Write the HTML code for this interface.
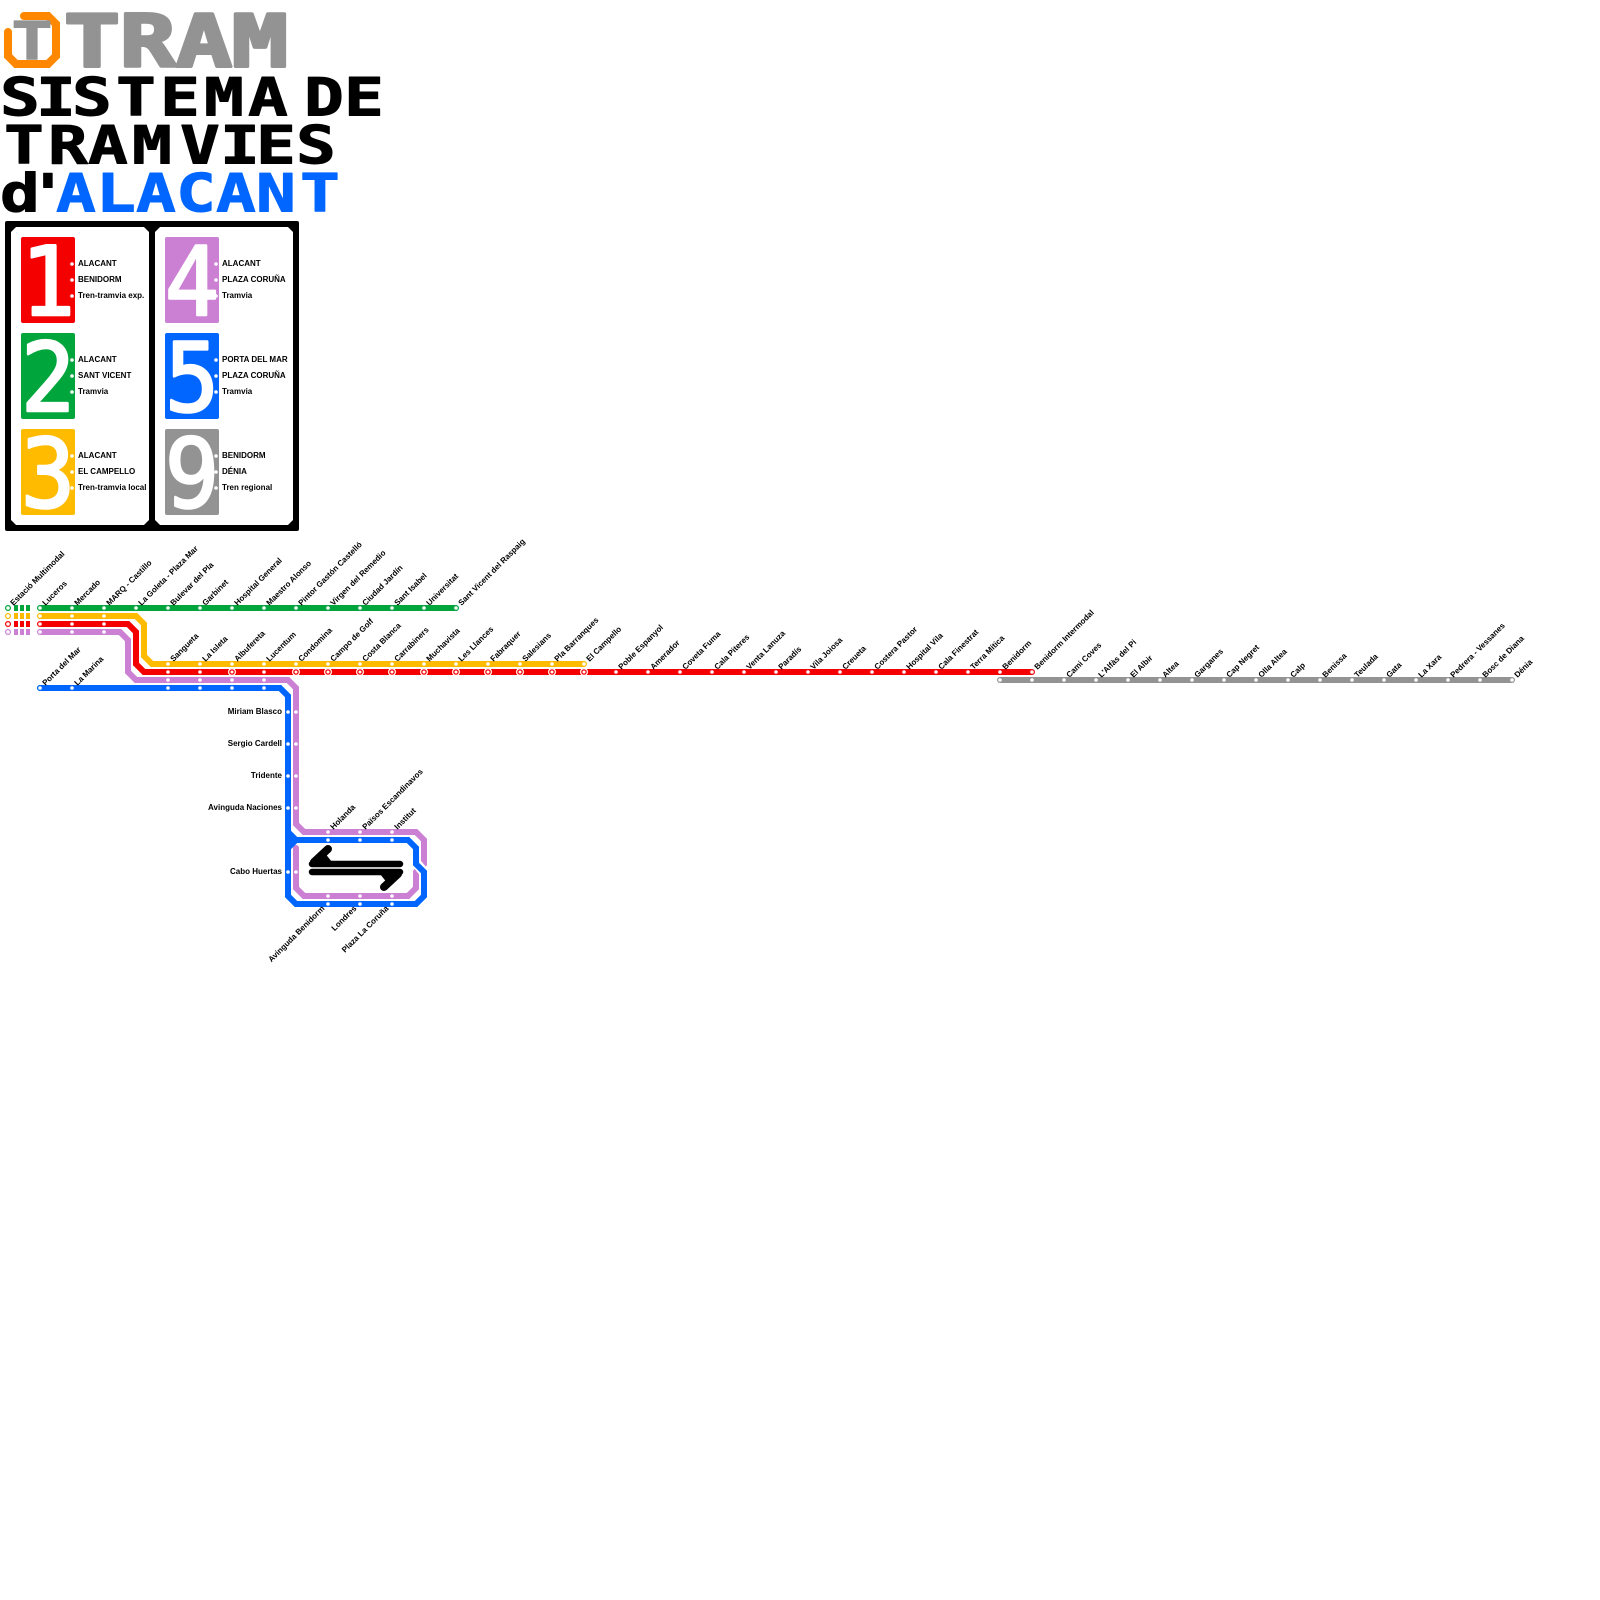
<!DOCTYPE html>
<html><head><meta charset="utf-8"><title>Sistema de Tramvies d'Alacant</title>
<style>
html,body{margin:0;padding:0;background:#fff}
svg{display:block}
.t{font-family:"DejaVu Sans Mono",monospace;font-weight:700;text-anchor:middle;stroke-linejoin:round}
.n{font-family:"DejaVu Sans Mono",monospace;font-weight:400;text-anchor:middle;stroke-linejoin:round}
.s{font-family:"Liberation Sans",sans-serif;font-weight:700;font-size:8px;fill:#000}
.e{text-anchor:end}
.l{fill:none;stroke-width:6;stroke-linecap:round;stroke-linejoin:miter}
.d circle{r:1.8px}
</style></head><body>
<svg xmlns="http://www.w3.org/2000/svg" width="1600" height="1600" viewBox="0 0 1600 1600">
<rect width="1600" height="1600" fill="#fff"/>

<path d="M24 16H48L56 24V56L48 64H16L8 56V32" fill="none" stroke="#ff8800" stroke-width="8" stroke-linecap="round"/>
<text class="t" transform="translate(32,59.5) scale(1.3,1)" font-size="53" fill="#939393" stroke="#939393" stroke-width="1">T</text>
<text class="t" transform="scale(1.3,1)" x="70.8 113.8 156.9 200" y="66.5" font-size="72" fill="#939393" stroke="#939393" stroke-width="3">TRAM</text>
<text class="t" transform="scale(1.25,1)" x="16 44.8 73.6 108.8 144 179.2 214.4 240 259.2 291.2" y="115.5" font-size="53" fill="#000" stroke="#000" stroke-width="1">SISTEMA DE</text>
<text class="t" transform="scale(1.25,1)" x="19.2 54.4 86.4 121.6 160 192 220.8 252.8" y="163.5" font-size="53" fill="#000" stroke="#000" stroke-width="1">TRAMVIES</text>
<text class="t" transform="scale(1.25,1)" y="211.5" font-size="53" stroke-width="1"><tspan x="16 38.4" fill="#000" stroke="#000">d'</tspan><tspan x="60.8 92.8 124.8 156.8 188.8 220.8 256" fill="#0066ff" stroke="#0066ff">ALACANT</tspan></text>

<rect x="5" y="221" width="294" height="310" rx="2" fill="#000"/>
<polygon points="16,227 144,227 149,232 149,520 144,525 16,525 11,520 11,232" fill="#fff"/>
<polygon points="160,227 288,227 293,232 293,520 288,525 160,525 155,520 155,232" fill="#fff"/>

<rect x="21" y="237" width="54" height="86" rx="2" fill="#f50000"/>
<rect x="21" y="333" width="54" height="86" rx="2" fill="#00a63c"/>
<rect x="21" y="429" width="54" height="86" rx="2" fill="#ffbb00"/>
<rect x="165" y="237" width="54" height="86" rx="2" fill="#cc80d4"/>
<rect x="165" y="333" width="54" height="86" rx="2" fill="#0066ff"/>
<rect x="165" y="429" width="54" height="86" rx="2" fill="#939393"/>

<g class="n" font-size="95" fill="#fff" stroke="#fff" stroke-width="2.5">
<text transform="translate(48,315) scale(.95,1)">1</text>
<text transform="translate(48,411) scale(.95,1)">2</text>
<text transform="translate(48,507) scale(.95,1)">3</text>
<text transform="translate(192,315) scale(.95,1)">4</text>
<text transform="translate(192,411) scale(.95,1)">5</text>
<text transform="translate(192,507) scale(.95,1)">9</text>
</g>

<g fill="#fff" class="d">
<circle cx="72" cy="264" r="2"/><circle cx="72" cy="280" r="2"/><circle cx="72" cy="296" r="2"/>
<circle cx="72" cy="360" r="2"/><circle cx="72" cy="376" r="2"/><circle cx="72" cy="392" r="2"/>
<circle cx="72" cy="456" r="2"/><circle cx="72" cy="472" r="2"/><circle cx="72" cy="488" r="2"/>
<circle cx="216" cy="264" r="2"/><circle cx="216" cy="280" r="2"/><circle cx="216" cy="296" r="2"/>
<circle cx="216" cy="360" r="2"/><circle cx="216" cy="376" r="2"/><circle cx="216" cy="392" r="2"/>
<circle cx="216" cy="456" r="2"/><circle cx="216" cy="472" r="2"/><circle cx="216" cy="488" r="2"/>
</g>
<g class="s">
<text x="78" y="266">ALACANT</text><text x="78" y="282">BENIDORM</text><text x="78" y="298">Tren-tramvia exp.</text>
<text x="78" y="362">ALACANT</text><text x="78" y="378">SANT VICENT</text><text x="78" y="394">Tramvia</text>
<text x="78" y="458">ALACANT</text><text x="78" y="474">EL CAMPELLO</text><text x="78" y="490">Tren-tramvia local</text>
<text x="222" y="266">ALACANT</text><text x="222" y="282">PLAZA CORUÑA</text><text x="222" y="298">Tramvia</text>
<text x="222" y="362">PORTA DEL MAR</text><text x="222" y="378">PLAZA CORUÑA</text><text x="222" y="394">Tramvia</text>
<text x="222" y="458">BENIDORM</text><text x="222" y="474">DÉNIA</text><text x="222" y="490">Tren regional</text>
</g>

<!-- legend stubs -->
<path class="l" d="M8 608H8.01" stroke="#00a63c"/><path class="l" d="M8 616H8.01" stroke="#ffbb00"/><path class="l" d="M8 624H8.01" stroke="#f50000"/><path class="l" d="M8 632H8.01" stroke="#cc80d4"/>
<g fill="#00a63c"><rect x="14" y="605" width="4" height="6"/><rect x="20" y="605" width="4" height="6"/><rect x="26" y="605" width="4" height="6"/></g>
<g fill="#ffbb00"><rect x="14" y="613" width="4" height="6"/><rect x="20" y="613" width="4" height="6"/><rect x="26" y="613" width="4" height="6"/></g>
<g fill="#f50000"><rect x="14" y="621" width="4" height="6"/><rect x="20" y="621" width="4" height="6"/><rect x="26" y="621" width="4" height="6"/></g>
<g fill="#cc80d4"><rect x="14" y="629" width="4" height="6"/><rect x="20" y="629" width="4" height="6"/><rect x="26" y="629" width="4" height="6"/></g>

<!-- lines -->
<path class="l" d="M40 608H456" stroke="#00a63c"/>
<path class="l" d="M1000 680H1512" stroke="#939393"/>
<path class="l" d="M40 632H120L128 640V672L136 680H288L296 688V824L304 832H416L424 840V864L416 872V888L408 896H304L296 888V848" stroke="#cc80d4" stroke-linecap="butt"/>
<path class="l" d="M40 616H136L144 624V656L152 664H584" stroke="#ffbb00"/>
<path class="l" d="M40 624H128L136 632V664L144 672H1032" stroke="#f50000"/>
<path d="M414 860L426 875" stroke="#fff" stroke-width="10" fill="none"/>
<path class="l" d="M40 688H280L288 696V896L296 904H416L424 896V872L416 864V848L408 840H296L288 848M288 832L296 840" stroke="#0066ff" stroke-linecap="butt"/>
<circle cx="40" cy="688" r="3" fill="#0066ff"/>
<polygon points="285,830 292,836 296,837 296,843 292,844 285,850" fill="#0066ff"/>

<!-- arrows -->
<g fill="none" stroke="#000" stroke-linecap="round" stroke-linejoin="round">
<path d="M312 864H400" stroke-width="6.5"/>
<path d="M312 872H400" stroke-width="6.5"/>
<path d="M314 862L328 849" stroke-width="8"/>
<path d="M398 874L384 887" stroke-width="8"/>
</g>
<polygon points="316,863 332,862 324,852" fill="#000"/>
<polygon points="396,873 380,874 388,884" fill="#000"/>

<!-- stations -->
<g fill="#fff" class="d">
<circle cx="8" cy="608" r="2"/><circle cx="8" cy="616" r="2"/><circle cx="8" cy="624" r="2"/><circle cx="8" cy="632" r="2"/>
<circle cx="40" cy="608" r="2"/><circle cx="72" cy="608" r="2"/><circle cx="104" cy="608" r="2"/><circle cx="136" cy="608" r="2"/><circle cx="168" cy="608" r="2"/><circle cx="200" cy="608" r="2"/><circle cx="232" cy="608" r="2"/><circle cx="264" cy="608" r="2"/><circle cx="296" cy="608" r="2"/><circle cx="328" cy="608" r="2"/><circle cx="360" cy="608" r="2"/><circle cx="392" cy="608" r="2"/><circle cx="424" cy="608" r="2"/><circle cx="456" cy="608" r="2"/>
<circle cx="40" cy="616" r="2"/><circle cx="72" cy="616" r="2"/><circle cx="104" cy="616" r="2"/>
<circle cx="40" cy="624" r="2"/><circle cx="72" cy="624" r="2"/><circle cx="104" cy="624" r="2"/>
<circle cx="40" cy="632" r="2"/><circle cx="72" cy="632" r="2"/><circle cx="104" cy="632" r="2"/>
<circle cx="168" cy="664" r="2"/><circle cx="200" cy="664" r="2"/><circle cx="232" cy="664" r="2"/><circle cx="264" cy="664" r="2"/><circle cx="296" cy="664" r="2"/><circle cx="328" cy="664" r="2"/><circle cx="360" cy="664" r="2"/><circle cx="392" cy="664" r="2"/><circle cx="424" cy="664" r="2"/><circle cx="456" cy="664" r="2"/><circle cx="488" cy="664" r="2"/><circle cx="520" cy="664" r="2"/><circle cx="552" cy="664" r="2"/><circle cx="584" cy="664" r="2"/>
<circle cx="168" cy="672" r="2"/><circle cx="200" cy="672" r="2"/><circle cx="264" cy="672" r="2"/>
<circle cx="616" cy="672" r="2"/><circle cx="648" cy="672" r="2"/><circle cx="680" cy="672" r="2"/><circle cx="712" cy="672" r="2"/><circle cx="744" cy="672" r="2"/><circle cx="776" cy="672" r="2"/><circle cx="808" cy="672" r="2"/><circle cx="840" cy="672" r="2"/><circle cx="872" cy="672" r="2"/><circle cx="904" cy="672" r="2"/><circle cx="936" cy="672" r="2"/><circle cx="968" cy="672" r="2"/><circle cx="1000" cy="672" r="2"/><circle cx="1032" cy="672" r="2"/>
<circle cx="168" cy="680" r="2"/><circle cx="200" cy="680" r="2"/><circle cx="232" cy="680" r="2"/><circle cx="264" cy="680" r="2"/>
<circle cx="40" cy="688" r="2"/><circle cx="72" cy="688" r="2"/><circle cx="168" cy="688" r="2"/><circle cx="200" cy="688" r="2"/><circle cx="232" cy="688" r="2"/><circle cx="264" cy="688" r="2"/>
<circle cx="1000" cy="680" r="2"/><circle cx="1032" cy="680" r="2"/><circle cx="1064" cy="680" r="2"/><circle cx="1096" cy="680" r="2"/><circle cx="1128" cy="680" r="2"/><circle cx="1160" cy="680" r="2"/><circle cx="1192" cy="680" r="2"/><circle cx="1224" cy="680" r="2"/><circle cx="1256" cy="680" r="2"/><circle cx="1288" cy="680" r="2"/><circle cx="1320" cy="680" r="2"/><circle cx="1352" cy="680" r="2"/><circle cx="1384" cy="680" r="2"/><circle cx="1416" cy="680" r="2"/><circle cx="1448" cy="680" r="2"/><circle cx="1480" cy="680" r="2"/><circle cx="1512" cy="680" r="2"/>
<circle cx="288" cy="712" r="2"/><circle cx="288" cy="744" r="2"/><circle cx="288" cy="776" r="2"/><circle cx="288" cy="808" r="2"/><circle cx="288" cy="872" r="2"/>
<circle cx="296" cy="712" r="2"/><circle cx="296" cy="744" r="2"/><circle cx="296" cy="776" r="2"/><circle cx="296" cy="808" r="2"/><circle cx="296" cy="872" r="2"/>
<circle cx="328" cy="832" r="2"/><circle cx="360" cy="832" r="2"/><circle cx="392" cy="832" r="2"/>
<circle cx="328" cy="840" r="2"/><circle cx="360" cy="840" r="2"/><circle cx="392" cy="840" r="2"/>
<circle cx="328" cy="896" r="2"/><circle cx="360" cy="896" r="2"/><circle cx="392" cy="896" r="2"/>
<circle cx="328" cy="904" r="2"/><circle cx="360" cy="904" r="2"/><circle cx="392" cy="904" r="2"/>
</g>
<!-- interchange rings on red -->
<g fill="#fff">
<circle cx="232" cy="672" r="4"/><circle cx="296" cy="672" r="4"/><circle cx="328" cy="672" r="4"/><circle cx="360" cy="672" r="4"/><circle cx="392" cy="672" r="4"/><circle cx="424" cy="672" r="4"/><circle cx="456" cy="672" r="4"/><circle cx="488" cy="672" r="4"/><circle cx="520" cy="672" r="4"/><circle cx="552" cy="672" r="4"/><circle cx="584" cy="672" r="4"/>
</g>
<g fill="#f50000">
<circle cx="232" cy="672" r="2.8"/><circle cx="296" cy="672" r="2.8"/><circle cx="328" cy="672" r="2.8"/><circle cx="360" cy="672" r="2.8"/><circle cx="392" cy="672" r="2.8"/><circle cx="424" cy="672" r="2.8"/><circle cx="456" cy="672" r="2.8"/><circle cx="488" cy="672" r="2.8"/><circle cx="520" cy="672" r="2.8"/><circle cx="552" cy="672" r="2.8"/><circle cx="584" cy="672" r="2.8"/>
</g>
<g fill="#fff">
<circle cx="232" cy="672" r="1.5"/><circle cx="296" cy="672" r="1.5"/><circle cx="328" cy="672" r="1.5"/><circle cx="360" cy="672" r="1.5"/><circle cx="392" cy="672" r="1.5"/><circle cx="424" cy="672" r="1.5"/><circle cx="456" cy="672" r="1.5"/><circle cx="488" cy="672" r="1.5"/><circle cx="520" cy="672" r="1.5"/><circle cx="552" cy="672" r="1.5"/><circle cx="584" cy="672" r="1.5"/>
</g>

<!-- labels -->
<g class="s" transform="translate(2.5,2)">
<text transform="translate(11,604) rotate(-45)">Estació Multimodal</text>
<text transform="translate(43,604) rotate(-45)">Luceros</text>
<text transform="translate(75,604) rotate(-45)">Mercado</text>
<text transform="translate(107,604) rotate(-45)">MARQ - Castillo</text>
<text transform="translate(139,604) rotate(-45)">La Goleta - Plaza Mar</text>
<text transform="translate(171,604) rotate(-45)">Bulevar del Pla</text>
<text transform="translate(203,604) rotate(-45)">Garbinet</text>
<text transform="translate(235,604) rotate(-45)">Hospital General</text>
<text transform="translate(267,604) rotate(-45)">Maestro Alonso</text>
<text transform="translate(299,604) rotate(-45)">Pintor Gastón Castelló</text>
<text transform="translate(331,604) rotate(-45)">Virgen del Remedio</text>
<text transform="translate(363,604) rotate(-45)">Ciudad Jardín</text>
<text transform="translate(395,604) rotate(-45)">Sant Isabel</text>
<text transform="translate(427,604) rotate(-45)">Universitat</text>
<text transform="translate(459,604) rotate(-45)">Sant Vicent del Raspaig</text>

<text transform="translate(171,660) rotate(-45)">Sangueta</text>
<text transform="translate(203,660) rotate(-45)">La Isleta</text>
<text transform="translate(235,660) rotate(-45)">Albufereta</text>
<text transform="translate(267,660) rotate(-45)">Lucentum</text>
<text transform="translate(299,660) rotate(-45)">Condomina</text>
<text transform="translate(331,660) rotate(-45)">Campo de Golf</text>
<text transform="translate(363,660) rotate(-45)">Costa Blanca</text>
<text transform="translate(395,660) rotate(-45)">Carrabiners</text>
<text transform="translate(427,660) rotate(-45)">Muchavista</text>
<text transform="translate(459,660) rotate(-45)">Les Llances</text>
<text transform="translate(491,660) rotate(-45)">Fabraquer</text>
<text transform="translate(523,660) rotate(-45)">Salesians</text>
<text transform="translate(555,660) rotate(-45)">Pla Barranques</text>
<text transform="translate(587,660) rotate(-45)">El Campello</text>

<text transform="translate(619,668) rotate(-45)">Poble Espanyol</text>
<text transform="translate(651,668) rotate(-45)">Amerador</text>
<text transform="translate(683,668) rotate(-45)">Coveta Fuma</text>
<text transform="translate(715,668) rotate(-45)">Cala Piteres</text>
<text transform="translate(747,668) rotate(-45)">Venta Lanuza</text>
<text transform="translate(779,668) rotate(-45)">Paradís</text>
<text transform="translate(811,668) rotate(-45)">Vila Joiosa</text>
<text transform="translate(843,668) rotate(-45)">Creueta</text>
<text transform="translate(875,668) rotate(-45)">Costera Pastor</text>
<text transform="translate(907,668) rotate(-45)">Hospital Vila</text>
<text transform="translate(939,668) rotate(-45)">Cala Finestrat</text>
<text transform="translate(971,668) rotate(-45)">Terra Mítica</text>
<text transform="translate(1003,668) rotate(-45)">Benidorm</text>
<text transform="translate(1035,668) rotate(-45)">Benidorm Intermodal</text>

<text transform="translate(1067,676) rotate(-45)">Cami Coves</text>
<text transform="translate(1099,676) rotate(-45)">L'Alfàs del Pi</text>
<text transform="translate(1131,676) rotate(-45)">El Albir</text>
<text transform="translate(1163,676) rotate(-45)">Altea</text>
<text transform="translate(1195,676) rotate(-45)">Garganes</text>
<text transform="translate(1227,676) rotate(-45)">Cap Negret</text>
<text transform="translate(1259,676) rotate(-45)">Olla Altea</text>
<text transform="translate(1291,676) rotate(-45)">Calp</text>
<text transform="translate(1323,676) rotate(-45)">Benissa</text>
<text transform="translate(1355,676) rotate(-45)">Teulada</text>
<text transform="translate(1387,676) rotate(-45)">Gata</text>
<text transform="translate(1419,676) rotate(-45)">La Xara</text>
<text transform="translate(1451,676) rotate(-45)">Pedrera - Vessanes</text>
<text transform="translate(1483,676) rotate(-45)">Bosc de Diana</text>
<text transform="translate(1515,676) rotate(-45)">Dénia</text>

<text transform="translate(43,684) rotate(-45)">Porta del Mar</text>
<text transform="translate(75,684) rotate(-45)">La Marina</text>

<text transform="translate(331,828) rotate(-45)">Holanda</text>
<text transform="translate(363,828) rotate(-45)">Països Escandinavos</text>
<text transform="translate(395,828) rotate(-45)">Institut</text>
</g>
<g class="s">
<text class="e" x="282" y="714">Miriam Blasco</text>
<text class="e" x="282" y="746">Sergio Cardell</text>
<text class="e" x="282" y="778">Tridente</text>
<text class="e" x="282" y="810">Avinguda Naciones</text>
<text class="e" x="282" y="874">Cabo Huertas</text>

<text class="e" transform="translate(325,909) rotate(-45)">Avinguda Benidorm</text>
<text class="e" transform="translate(357,909) rotate(-45)">Londres</text>
<text class="e" transform="translate(389,909) rotate(-45)">Plaza La Coruña</text>
</g>
</svg>
</body></html>
